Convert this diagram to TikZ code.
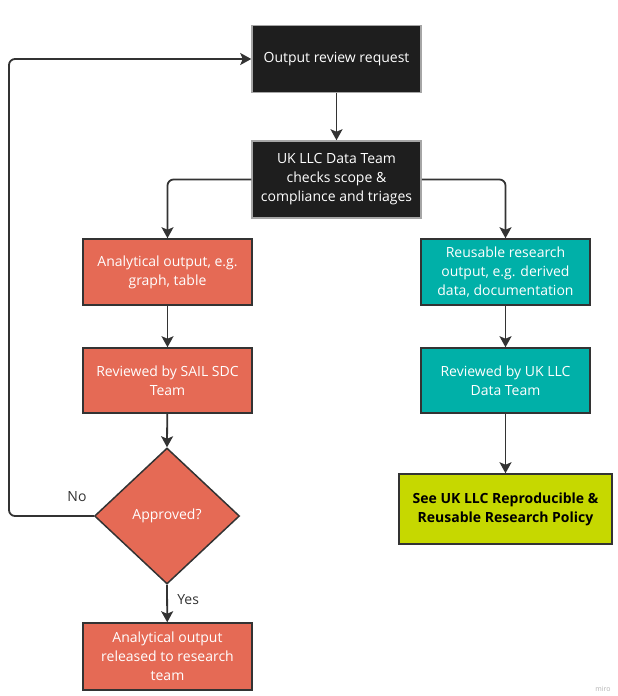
\documentclass[tikz,border=0pt]{standalone}
\usepackage{fontspec}
\setmainfont{Open Sans}
\usetikzlibrary{arrows.meta,shapes.geometric}
\definecolor{salmon}{HTML}{E56A55}
\definecolor{tealc}{HTML}{00B0A8}
\definecolor{limec}{HTML}{C6D800}
\definecolor{blackc}{HTML}{1E1E1E}
\definecolor{linec}{HTML}{333333}
\tikzset{
  box/.style={rectangle, draw=linec, line width=1.5pt, minimum width=169pt, inner sep=2pt,
    align=center, font=\fontsize{14}{19}\selectfont, text=white},
  blk/.style={box, fill=blackc, draw=gray!70},
  red/.style={box, fill=salmon},
  teal/.style={box, fill=tealc},
  lime/.style={box, fill=limec, text=black, font=\bfseries\fontsize{14}{19}\selectfont, minimum width=213pt},
  dia/.style={diamond, draw=linec, line width=1.5pt, fill=salmon, minimum width=145pt, minimum height=136pt,
    aspect=1.07, inner sep=0pt, text=white, font=\fontsize{14}{19}\selectfont},
  conn/.style={draw=linec, line width=1.8pt, -{Stealth[length=11pt,width=12pt,inset=2.5pt]}, rounded corners=6pt},
  lbl/.style={font=\fontsize{14}{16}\selectfont, text=linec}
}
\begin{document}
\begin{tikzpicture}[x=1pt,y=-1pt]
\useasboundingbox (0,0) rectangle (618,696);
\node[blk, minimum height=67pt] (req) at (336.5,59) {Output review request};
\node[blk, minimum height=77pt] (team) at (336.5,179.5) {UK LLC Data Team\\checks scope \&\\compliance and triages};
\node[red, minimum height=66pt] (ana) at (167.5,272) {Analytical output, e.g.\\graph, table};
\node[teal, minimum height=66pt] (reu) at (505.5,272) {Reusable research\\output, e.g. derived\\data, documentation};
\node[red, minimum height=65pt] (sail) at (167.5,380.5) {Reviewed by SAIL SDC\\Team};
\node[teal, minimum height=65pt] (ukrev) at (505.5,380.5) {Reviewed by UK LLC\\Data Team};
\node[dia] (appr) at (167,516) {Approved?};
\node[lime, minimum height=70pt] (pol) at (505.5,509) {See UK LLC Reproducible \&\\Reusable Research Policy};
\node[red, minimum height=67pt] (rel) at (167.5,656.5) {Analytical output\\released to research\\team};
\coordinate (loop) at (9,516);

\draw[conn] (req) -- (team);
\draw[conn] (team.west) -| (ana.north);
\draw[conn] (team.east) -| (reu.north);
\draw[conn] (ana) -- (sail);
\draw[conn] (reu) -- (ukrev);
\draw[conn] (sail) -- (appr.north);
\draw[conn] (ukrev) -- (pol);
\draw[conn] (appr.south) -- node[lbl, right, pos=0.4, xshift=6pt] (yes) {Yes} (rel);
\draw[conn] (appr.west) -- (loop) |- (req.west);
\node[lbl] (no) at (77,497) {No};
\node[font=\fontsize{7}{8}\selectfont, text=gray!60] (miro) at (603,689) {miro};
\end{tikzpicture}
\end{document}
